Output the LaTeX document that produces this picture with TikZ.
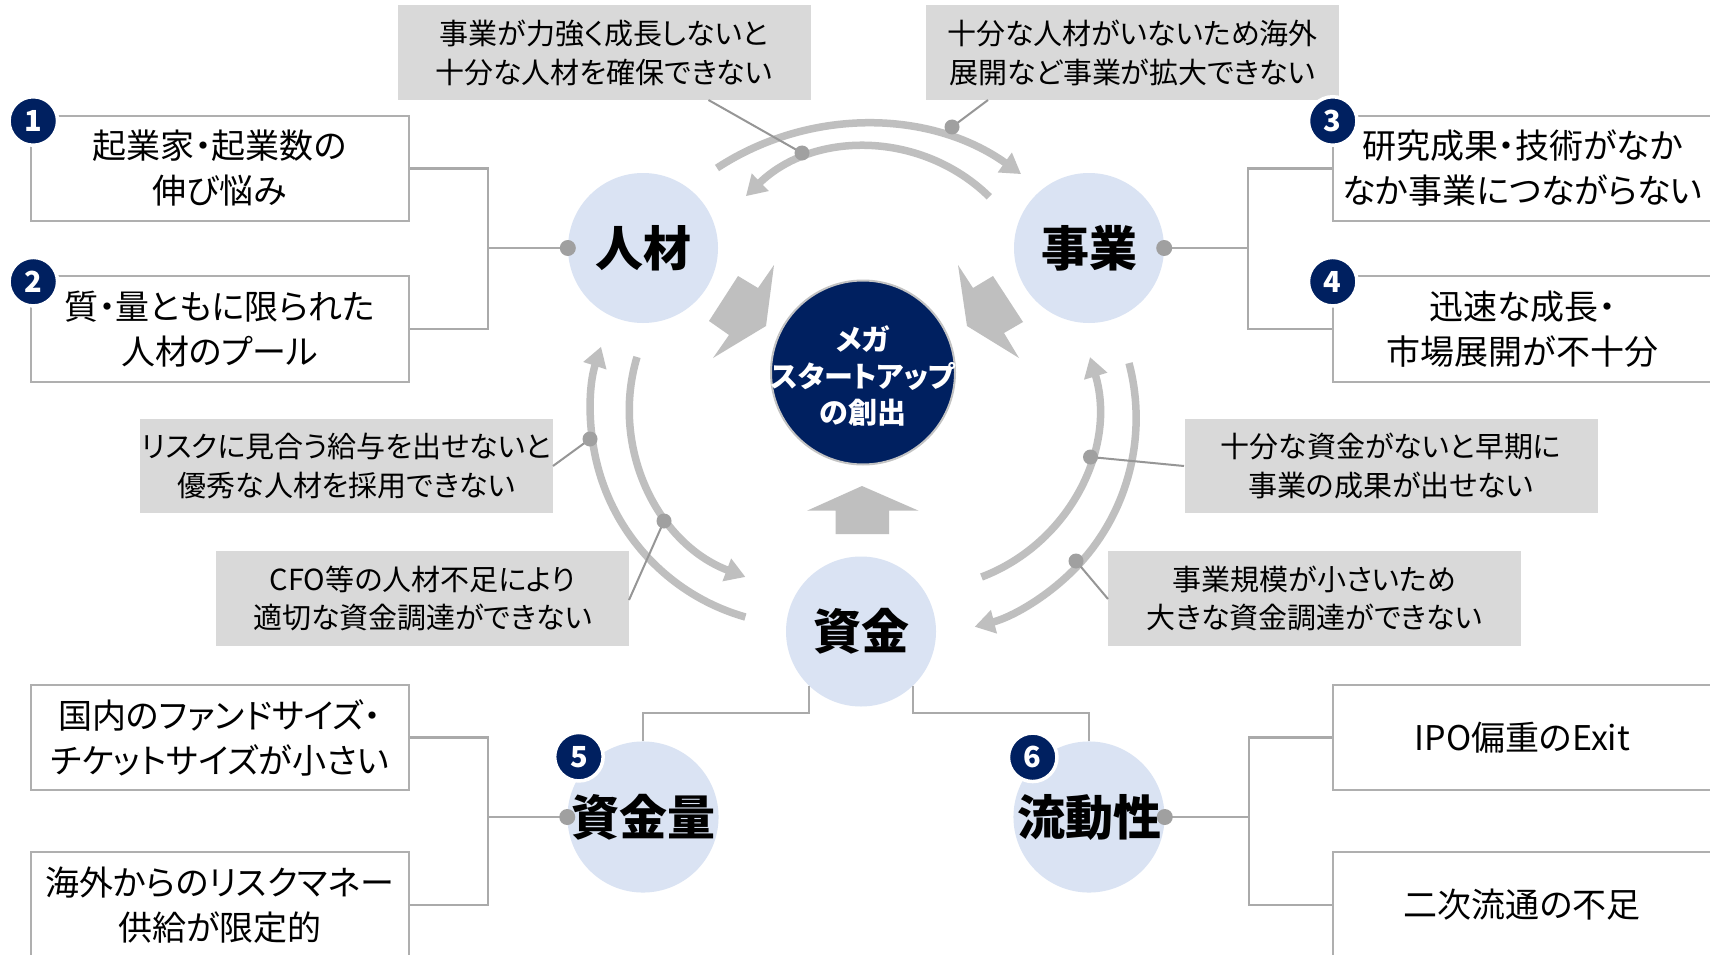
\documentclass[tikz,border=0pt]{standalone}
\usepackage{fontspec}
\setmainfont{Noto Sans CJK JP}[RawFeature={+palt}]
\usetikzlibrary{arrows.meta}
\definecolor{topicblue}{RGB}{218,227,243}
\definecolor{navy}{RGB}{0,32,96}
\definecolor{arcgray}{RGB}{191,191,191}
\definecolor{lblgray}{RGB}{217,217,217}
\definecolor{boxgray}{RGB}{175,175,175}
\definecolor{conngray}{RGB}{170,170,170}
\definecolor{callgray}{RGB}{150,150,150}
\definecolor{dotgray}{RGB}{160,160,160}
\definecolor{ringgray}{RGB}{195,195,195}
\begin{document}
\begin{tikzpicture}[x=1pt,y=-1pt,
  box/.style={draw=boxgray, line width=2pt, fill=white, minimum width=378.5pt, minimum height=105.8pt, inner sep=0pt, align=center, font=\fontsize{34}{45}\selectfont},
  lbl/.style={fill=lblgray, minimum width=413pt, minimum height=94.5pt, inner sep=0pt, align=center, font=\fontsize{29}{38.5}\selectfont},
  topic/.style={circle, fill=topicblue, minimum size=150pt, inner sep=0pt, font=\fontsize{48}{50}\selectfont\bfseries},
  badge/.style={circle, fill=navy, draw=white, line width=3.5pt, minimum size=48.5pt, inner sep=0pt, text=white, font=\fontsize{29}{29}\selectfont\bfseries},
  megac/.style={circle, fill=navy, draw=ringgray, line width=2pt, minimum size=184pt, inner sep=0pt},
  megatxt/.style={inner sep=0pt, text=white, align=center, font=\fontsize{29}{36.6}\selectfont\bfseries},
  cyc/.style={draw=arcgray, line width=7.5pt, -{Triangle[length=20pt,width=23pt]}},
  conn/.style={draw=conngray, line width=2.2pt},
  callout/.style={draw=callgray, line width=2pt},
  dot/.style={fill=dotgray},
  blockarrow/.style={fill=arcgray}]
\useasboundingbox (0,0) rectangle (1710,955);
\fill[white] (0,0) rectangle (1710,955);

% gray labels
\node[lbl] (lbl1) at (604,52.75) {事業が力強く成長しないと\\十分な人材を確保できない};
\node[lbl] (lbl2) at (1132.5,52.75) {十分な人材がいないため海外\\展開など事業が拡大できない};
\node[lbl] (lbl3) at (346.3,465.8) {リスクに見合う給与を出せないと\\優秀な人材を採用できない};
\node[lbl] (lbl4) at (422.5,598.3) {CFO等の人材不足により\\適切な資金調達ができない};
\node[lbl] (lbl5) at (1391,465.8) {十分な資金がないと早期に\\事業の成果が出せない};
\node[lbl] (lbl6) at (1314.5,598.3) {事業規模が小さいため\\大きな資金調達ができない};

% cycle arcs
\coordinate (a1) at (717,168);
\coordinate (a2) at (989.3,196.8);
\coordinate (a3) at (745.4,617);
\coordinate (a4) at (637,357);
\coordinate (a5) at (1129,363.1);
\coordinate (a6) at (981.5,577);
\draw[cyc] (a1) arc[start angle=-123.2, end angle=-54.5, radius=269.5];
\draw[cyc] (a2) arc[start angle=-45.6, end angle=-134.1, radius=174.4];
\draw[cyc] (a3) arc[start angle=105.84, end angle=197.95, radius=212.8];
\draw[cyc] (a4) arc[start angle=196.7, end angle=110.8, radius=180];
\draw[cyc] (a5) arc[start angle=-14.8, end angle=75.5, radius=215.5];
\draw[cyc] (a6) arc[start angle=69.2, end angle=-16.7, radius=180];

% block arrows into the centre
\fill[blockarrow] (774,265) -- (766,326) -- (713,358) -- (729,335) -- (709,321) -- (738,276) -- (758,288) -- cycle;
\fill[blockarrow] (958,265) -- (973,288) -- (993,276) -- (1023,322) -- (1004,333) -- (1019,358) -- (967,326) -- cycle;
\fill[blockarrow] (862,486) -- (918.6,510.7) -- (889,510.7) -- (889,534) -- (835.6,534) -- (835.6,510.7) -- (807,510.7) -- cycle;

% callouts
\coordinate (d1) at (802,153);   \coordinate (l1) at (708.5,100);
\coordinate (d2) at (952,127);   \coordinate (l2) at (988,100);
\coordinate (d3) at (590,439);   \coordinate (l3) at (553,466);
\coordinate (d4) at (664,521);   \coordinate (l4) at (629,600);
\coordinate (d5) at (1090.5,457);\coordinate (l5) at (1184,466);
\coordinate (d6) at (1076,561);  \coordinate (l6) at (1108,599);
\foreach \i in {1,...,6}{
  \draw[callout] (l\i) -- (d\i);
  \fill[dot] (d\i) circle (7.5);
}

% centre
\node[megac] (mega) at (863,372.5) {};
\node[megatxt] (megat) at (863,376) {メガ\\スタートアップ\\の創出};

% topic circles
\node[topic] (jinzai) at (643,248) {人材};
\node[topic] (jigyo) at (1089,248) {事業};
\node[topic] (shikin) at (861,631.5) {資金};
\node[topic] (ryo) at (643,817) {資金量};
\node[topic] (ryudo) at (1089,817) {流動性};

% boxes
\node[box] (box1) at (219.75,168.5) {起業家・起業数の\\伸び悩み};
\node[box] (box2) at (219.75,329) {質・量ともに限られた\\人材のプール};
\node[box] (box3) at (1522.35,168.5) {研究成果・技術がなか\\なか事業につながらない};
\node[box] (box4) at (1522.35,329) {迅速な成長・\\市場展開が不十分};
\node[box] (box5) at (219.75,737.5) {国内のファンドサイズ・\\チケットサイズが小さい};
\node[box] (box6) at (219.75,905) {海外からのリスクマネー\\供給が限定的};
\node[box] (ipo) at (1522.35,737.5) {IPO偏重のExit};
\node[box] (niji) at (1522.35,905) {二次流通の不足};

% brackets
\coordinate (bl) at (488,248);
\coordinate (br) at (1248,248);
\coordinate (bl2) at (488,817);
\coordinate (br2) at (1249,817);
\draw[conn] (box1.east) -| (bl) |- (box2.east);
\draw[conn] (bl) -- (jinzai.west);
\fill[dot] (jinzai.west) circle (8);
\draw[conn] (box3.west) -| (br) |- (box4.west);
\draw[conn] (br) -- (jigyo.east);
\fill[dot] (jigyo.east) circle (8);
\draw[conn] (box5.east) -| (bl2) |- (box6.east);
\draw[conn] (bl2) -- (ryo.west);
\fill[dot] (ryo.west) circle (8);
\draw[conn] (ipo.west) -| (br2) |- (niji.west);
\draw[conn] (br2) -- (ryudo.east);
\fill[dot] (ryudo.east) circle (8);
\draw[conn] (shikin.-134) -- ++(0,27.5) -| (ryo.north);
\draw[conn] (shikin.-46) -- ++(0,27.5) -| (ryudo.north);

% badges
\node[badge] (n1) at (33.3,121) {1};
\node[badge] (n2) at (33.3,281.7) {2};
\node[badge] (n3) at (1332.7,121) {3};
\node[badge] (n4) at (1332.7,281.7) {4};
\node[badge] (n5) at (578.9,756.7) {5};
\node[badge] (n6) at (1032.7,757.3) {6};
\end{tikzpicture}
\end{document}
